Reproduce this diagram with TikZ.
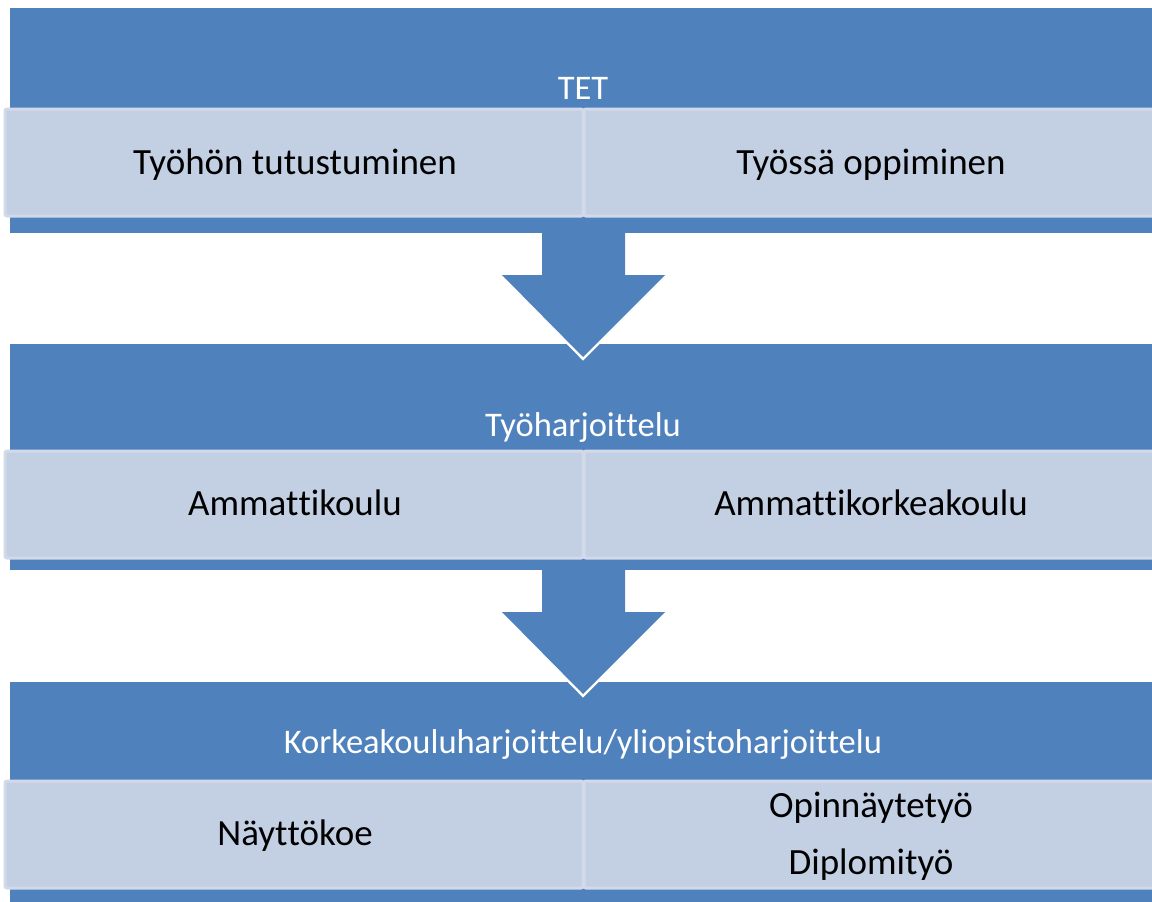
\documentclass[tikz,border=0pt]{standalone}
\usepackage{fontspec}
\setmainfont[Ligatures={NoCommon,NoRequired,NoContextual}]{Carlito}
\newcommand\tsp{t\kern0pt t}
\definecolor{bandblue}{HTML}{4F81BD}
\definecolor{lightbox}{HTML}{C3CFE3}
\definecolor{lightedge}{HTML}{D2DAEA}
\begin{document}
\begin{tikzpicture}[x=1pt,y=-1pt,
  band/.style={fill=bandblue,draw=none},
  cell/.style={fill=lightbox,draw=lightedge,line width=3pt,rounded corners=2pt},
  head/.style={font=\fontsize{34.5}{40}\selectfont,text=white,anchor=base},
  celltext/.style={font=\fontsize{37}{44}\selectfont,text=black,anchor=base,align=center},
  arrowbody/.style={fill=bandblue,draw=none}]
\useasboundingbox (0,0) rectangle (1152,902);
% bands
\fill[band] (10,8) rectangle (1160,233);
\fill[band] (10,344) rectangle (1160,570);
\fill[band] (10,682) rectangle (1160,910);
% cells
\draw[cell] (5,109) rectangle (583,216);
\draw[cell] (584,109) rectangle (1160,216);
\draw[cell] (5,451) rectangle (583,558);
\draw[cell] (584,451) rectangle (1160,558);
\draw[cell] (5,781) rectangle (583,888);
\draw[cell] (584,781) rectangle (1160,888);
% arrows
\foreach \t in {0,337} {
  \draw[white,line width=5pt,line join=miter] (502,275+\t) -- (583,357+\t) -- (665,275+\t);
  \fill[arrowbody] (542,230+\t) -- (625,230+\t) -- (625,275+\t) -- (665,275+\t) -- (583,357+\t) -- (502,275+\t) -- (542,275+\t) -- cycle;
}
% texts
\node[head] (h1) at (583,99) {TET};
\node[head] (h2) at (583,436) {Työharjoi\tsp elu};
\node[head] (h3) at (583,753) {Korkeakouluharjoi\tsp elu/yliopistoharjoi\tsp elu};
\node[celltext] (a1) at (295,174) {Työhön tutustuminen};
\node[celltext] (a2) at (871,174) {Työssä oppiminen};
\node[celltext] (b1) at (295,515) {Amma\tsp ikoulu};
\node[celltext] (b2) at (871,515) {Amma\tsp ikorkeakoulu};
\node[celltext] (c1) at (295,845) {Näy\tsp ökoe};
\node[celltext] (c2) at (871,817) {Opinnäytetyö};
\node[celltext] (c3) at (871,874) {Diplomityö};
\end{tikzpicture}
\end{document}
